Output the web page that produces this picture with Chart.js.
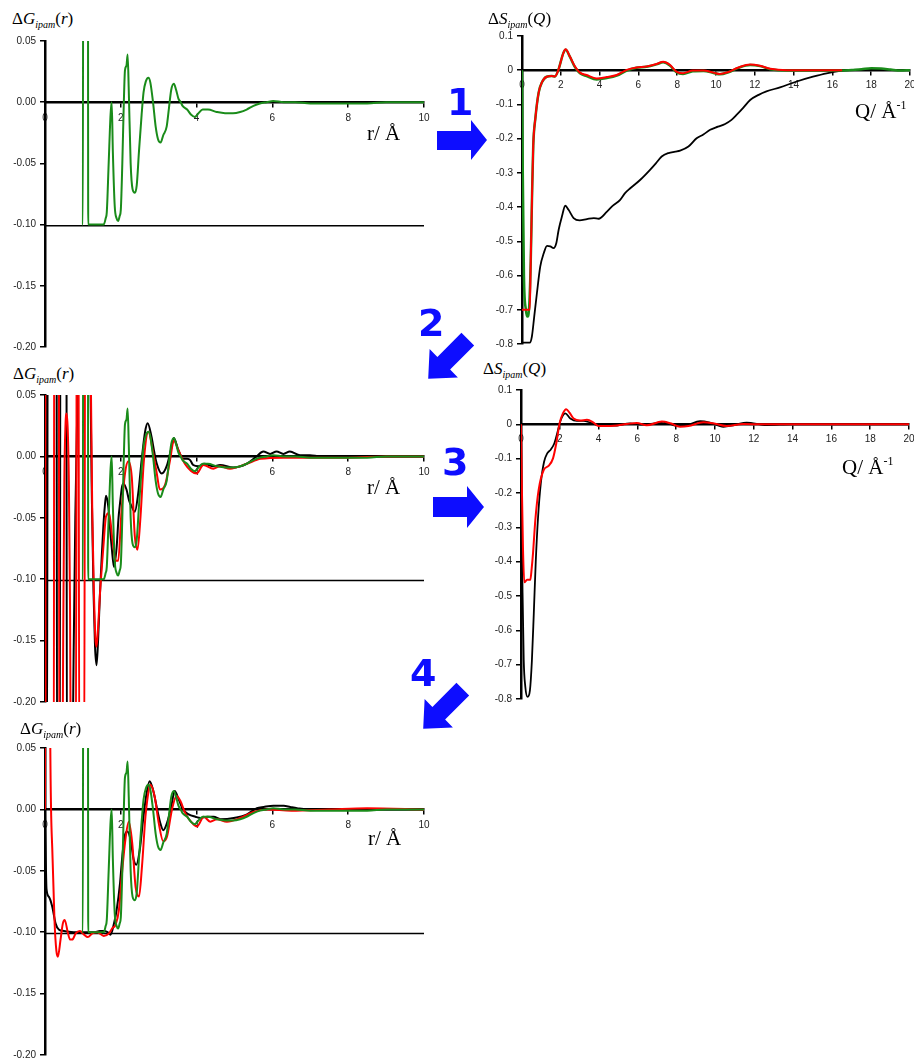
<!DOCTYPE html>
<html>
<head>
<meta charset="utf-8">
<script src="https://cdn.jsdelivr.net/npm/chart.js@4.4.0/dist/chart.umd.min.js"></script>
<style>
html, body { margin: 0; padding: 0; width: 914px; height: 1059px; overflow: hidden; background: #fff; }
canvas { position: absolute; }
.lbl { position: absolute; font-family: "Liberation Serif", "DejaVu Serif", serif; color: #000; white-space: nowrap; line-height: 1; }
.yt { font-size: 17px; }
.yt i { font-style: italic; }
.yt sub { font-size: 10px; font-style: italic; vertical-align: -4px; line-height: 0; }
.xt { font-size: 21px; }
.xt sup { font-size: 12px; vertical-align: 9px; line-height: 0; }
.num { position: absolute; font-family: "DejaVu Sans", sans-serif; font-weight: bold; font-size: 38px; color: #0d0dff; line-height: 1; }
svg { position: absolute; left: 0; top: 0; }
</style>
</head>
<body>

<canvas id="c1" width="440" height="326" style="left:0;top:31px"></canvas>
<canvas id="c2" width="450" height="328" style="left:480px;top:26px"></canvas>
<canvas id="c3" width="440" height="327" style="left:0;top:385px"></canvas>
<canvas id="c4" width="450" height="329" style="left:480px;top:380px"></canvas>
<canvas id="c5" width="440" height="327" style="left:0;top:738px"></canvas>

<!-- axis titles -->
<div class="lbl yt" style="left:12px;top:10px">&Delta;<i>G</i><sub>ipam</sub>(<i>r</i>)</div>
<div class="lbl yt" style="left:488px;top:10px">&Delta;<i>S</i><sub>ipam</sub>(<i>Q</i>)</div>
<div class="lbl yt" style="left:13px;top:365px">&Delta;<i>G</i><sub>ipam</sub>(<i>r</i>)</div>
<div class="lbl yt" style="left:483px;top:360px">&Delta;<i>S</i><sub>ipam</sub>(<i>Q</i>)</div>
<div class="lbl yt" style="left:20px;top:720px">&Delta;<i>G</i><sub>ipam</sub>(<i>r</i>)</div>

<div class="lbl xt" style="left:367px;top:123px">r/ Å</div>
<div class="lbl xt" style="left:855px;top:101px">Q/ Å<sup>-1</sup></div>
<div class="lbl xt" style="left:367px;top:477px">r/ Å</div>
<div class="lbl xt" style="left:842px;top:457px">Q/ Å<sup>-1</sup></div>
<div class="lbl xt" style="left:368px;top:828px">r/ Å</div>

<!-- step numbers and arrows -->
<div class="num" style="left:447px;top:83px">1</div>
<div class="num" style="left:418px;top:304px">2</div>
<div class="num" style="left:442px;top:443px">3</div>
<div class="num" style="left:410px;top:654px">4</div>

<svg width="914" height="1059">
  <polygon fill="#0d0dff" points="437,131 471,131 471,120 487,140 471,160 471,150 437,150"/>
  <polygon fill="#0d0dff" points="433,497 467,497 467,486 484,507 467,528 467,517 433,517"/>
  <g transform="translate(448,359) rotate(135)">
    <polygon fill="#0d0dff" points="-28,-9 6,-9 6,-20 28,0 6,20 6,9 -28,9"/>
  </g>
  <g transform="translate(443,709) rotate(135)">
    <polygon fill="#0d0dff" points="-28,-9 6,-9 6,-20 28,0 6,20 6,9 -28,9"/>
  </g>
</svg>

<script>
// tick values
const rTicks = [0, 2, 4, 6, 8, 10];
const qTicks = [0, 2, 4, 6, 8, 10, 12, 14, 16, 18, 20];
const gTicks = [0.05, 0, -0.05, -0.10, -0.15, -0.20];
const sTicks = [0.1, 0, -0.1, -0.2, -0.3, -0.4, -0.5, -0.6, -0.7, -0.8];

// green dG(r) - same curve in panels 1, 3 and 5 (clipped at -0.10)
const greenR = [
  0.98, 1.00, 1.01, 1.13, 1.14, 1.55, 1.60, 1.63, 1.68, 1.73,
  1.76, 1.79, 1.84, 1.89, 1.93, 1.97, 2.00, 2.04, 2.08, 2.11,
  2.15, 2.18, 2.21, 2.26, 2.31, 2.37, 2.42, 2.48, 2.55, 2.60,
  2.66, 2.73, 2.78, 2.85, 2.92, 2.98, 3.05, 3.12, 3.21, 3.27,
  3.33, 3.40, 3.46, 3.52, 3.58, 3.63, 3.75, 3.85, 3.96, 4.05,
  4.16, 4.30, 4.53, 4.75, 4.96, 5.15, 5.32, 5.50, 5.67, 5.85,
  6.02, 6.30, 6.60, 7.00, 7.50, 8.00, 8.50, 9.00, 10.0
];
const greenG = [
  -0.100, -0.100, 0.300, 0.300, -0.100, -0.100, -0.095, -0.090, -0.050, -0.010,
  0.000, -0.040, -0.085, -0.095, -0.097, -0.093, -0.088, -0.050, 0.000, 0.026,
  0.030, 0.039, 0.010, -0.050, -0.071, -0.074, -0.068, -0.040, -0.010, 0.008,
  0.017, 0.020, 0.016, 0.000, -0.020, -0.030, -0.033, -0.027, -0.020, -0.005,
  0.010, 0.015, 0.010, 0.003, 0.000, -0.003, -0.006, -0.010, -0.012, -0.009,
  -0.006, -0.006, -0.008, -0.009, -0.009, -0.008, -0.006, -0.003, -0.001, 0.000,
  0.001, 0.000, 0.000, -0.001, -0.001, -0.001, -0.001, 0.000, 0.000
];

// panel 3
const p3BlackR = [
  0.00, 0.03, 0.05, 0.08, 0.30, 0.32, 0.39, 0.41, 0.56, 0.58,
  0.70, 0.76, 0.80, 0.84, 0.88, 0.93, 1.16, 1.20, 1.24, 1.28,
  1.32, 1.36, 1.40, 1.45, 1.50, 1.54, 1.58, 1.61, 1.67, 1.72,
  1.76, 1.82, 1.89, 1.94, 1.98, 2.03, 2.07, 2.15, 2.22, 2.29,
  2.37, 2.46, 2.55, 2.64, 2.71, 2.81, 2.88, 2.95, 3.08, 3.21,
  3.32, 3.40, 3.52, 3.65, 3.75, 3.83, 3.91, 4.05, 4.20, 4.44,
  4.62, 4.97, 5.32, 5.58, 5.76, 5.94, 6.11, 6.29, 6.46, 6.73,
  6.99, 7.26, 8.00, 9.00, 10.0
];
const p3BlackG = [
  0.30, -0.30, -0.30, 0.30, 0.30, -0.30, -0.30, 0.30, 0.30, -0.30,
  -0.30, -0.15, -0.05, 0.02, 0.07, 0.30, 0.30, 0.06, -0.04, -0.11,
  -0.155, -0.170, -0.150, -0.112, -0.080, -0.057, -0.040, -0.032, -0.041, -0.060,
  -0.074, -0.090, -0.074, -0.050, -0.038, -0.025, -0.022, -0.027, -0.036, -0.041,
  -0.045, -0.030, -0.003, 0.020, 0.027, 0.016, 0.004, -0.006, -0.014, -0.008,
  0.005, 0.015, 0.005, -0.002, -0.002, -0.003, -0.007, -0.008, -0.006, -0.008,
  -0.007, -0.009, -0.006, 0.000, 0.004, 0.002, 0.004, 0.002, 0.004, 0.001,
  0.001, 0.000, 0.000, 0.000, 0.000
];
const p3RedR = [
  0.00, 0.02, 0.23, 0.25, 0.36, 0.38, 0.45, 0.48, 0.51, 0.54,
  0.57, 0.60, 0.63, 0.66, 0.69, 0.81, 0.85, 0.87, 0.91, 1.03,
  1.07, 1.17, 1.21, 1.25, 1.29, 1.33, 1.36, 1.40, 1.45, 1.54,
  1.61, 1.69, 1.78, 1.87, 1.93, 2.02, 2.11, 2.20, 2.29, 2.37,
  2.44, 2.52, 2.61, 2.73, 2.84, 2.95, 3.03, 3.17, 3.30, 3.40,
  3.52, 3.69, 3.86, 4.00, 4.18, 4.44, 4.62, 4.88, 5.32, 5.69,
  6.29, 7.00, 8.00, 9.00, 10.0
];
const p3RedG = [
  0.30, -0.30, -0.30, 0.30, 0.30, -0.30, -0.30, -0.15, -0.02, 0.025,
  0.035, 0.022, -0.02, -0.12, -0.30, -0.30, 0.30, 0.30, -0.30, -0.30,
  0.30, 0.30, 0.06, -0.05, -0.11, -0.148, -0.155, -0.140, -0.112, -0.074,
  -0.049, -0.046, -0.068, -0.085, -0.085, -0.044, -0.014, -0.004, -0.017, -0.065,
  -0.076, -0.049, -0.003, 0.020, 0.005, -0.014, -0.027, -0.023, -0.003, 0.013,
  0.005, -0.006, -0.012, -0.014, -0.007, -0.010, -0.008, -0.010, -0.006, -0.002,
  -0.001, -0.001, -0.001, 0.000, 0.000
];

// panel 5
const p5BlackR = [
  0.00, 0.02, 0.04, 0.10, 0.19, 0.28, 0.37, 0.50, 0.76, 1.00,
  1.29, 1.45, 1.55, 1.65, 1.73, 1.82, 1.89, 1.98, 2.04, 2.10,
  2.17, 2.26, 2.34, 2.41, 2.50, 2.59, 2.68, 2.76, 2.85, 2.96,
  3.05, 3.12, 3.22, 3.33, 3.42, 3.53, 3.64, 3.79, 3.97, 4.10,
  4.28, 4.45, 4.63, 4.98, 5.33, 5.59, 5.77, 6.03, 6.30, 6.47,
  6.65, 6.91, 7.50, 8.00, 9.00, 10.0
];
const p5BlackG = [
  0.000, -0.040, -0.065, -0.071, -0.079, -0.093, -0.098, -0.099, -0.100, -0.100,
  -0.100, -0.099, -0.099, -0.100, -0.102, -0.093, -0.082, -0.060, -0.038, -0.022,
  -0.018, -0.025, -0.041, -0.045, -0.033, -0.008, 0.013, 0.023, 0.016, 0.000,
  -0.012, -0.017, -0.011, 0.002, 0.015, 0.008, 0.000, -0.004, -0.006, -0.007,
  -0.006, -0.006, -0.008, -0.007, -0.004, 0.001, 0.002, 0.003, 0.003, 0.002,
  0.001, 0.000, 0.000, 0.000, 0.000, 0.000
];
const p5RedR = [
  0.00, 0.01, 0.10, 0.14, 0.20, 0.25, 0.30, 0.34, 0.41, 0.47,
  0.52, 0.60, 0.66, 0.72, 0.81, 0.92, 1.03, 1.13, 1.25, 1.38,
  1.55, 1.69, 1.77, 1.86, 1.95, 2.04, 2.12, 2.21, 2.30, 2.39,
  2.48, 2.56, 2.65, 2.74, 2.78, 2.89, 3.00, 3.12, 3.22, 3.35,
  3.47, 3.57, 3.70, 3.88, 4.01, 4.19, 4.36, 4.54, 4.80, 5.15,
  5.50, 5.86, 6.50, 7.50, 8.50, 10.0
];
const p5RedG = [
  0.000, 0.300, 0.300, 0.050, -0.040, -0.090, -0.115, -0.120, -0.106, -0.093,
  -0.090, -0.100, -0.106, -0.106, -0.101, -0.099, -0.102, -0.104, -0.101, -0.100,
  -0.103, -0.101, -0.097, -0.094, -0.082, -0.049, -0.025, -0.010, -0.027, -0.063,
  -0.071, -0.046, -0.006, 0.016, 0.020, 0.011, -0.011, -0.026, -0.022, 0.000,
  0.011, 0.007, -0.003, -0.011, -0.014, -0.006, -0.010, -0.008, -0.010, -0.007,
  -0.002, 0.000, -0.001, 0.000, 0.001, 0.000
];

// panel 2: dS(Q)
const p2RedQ = [
  0.00, 0.40, 0.45, 0.52, 0.58, 0.69, 0.86, 1.03, 1.27, 1.53,
  1.70, 1.87, 2.13, 2.25, 2.47, 2.73, 2.99, 3.33, 3.85, 4.37,
  4.88, 5.40, 5.90, 6.42, 6.93, 7.28, 7.62, 7.96, 8.30, 8.80,
  9.36, 9.87, 10.20, 10.64, 11.16, 11.76, 12.27, 12.80, 13.65, 15.00,
  16.50
];
const p2RedS = [
  -0.700, -0.700, -0.560, -0.360, -0.220, -0.140, -0.065, -0.035, -0.019, -0.017,
  -0.018, 0.000, 0.050, 0.061, 0.040, 0.011, -0.007, -0.014, -0.024, -0.020,
  -0.014, 0.001, 0.008, 0.011, 0.018, 0.025, 0.016, -0.004, -0.009, -0.001,
  -0.001, -0.007, -0.011, -0.005, 0.008, 0.017, 0.013, 0.004, 0.000, 0.000,
  0.000
];
const p2GreenQ = [
  0.00, 0.04, 0.10, 0.20, 0.28, 0.36, 0.45, 0.52, 0.58, 0.69,
  0.86, 1.03, 1.27, 1.53, 1.70, 1.87, 2.13, 2.25, 2.47, 2.73,
  2.99, 3.33, 3.85, 4.37, 4.88, 5.40, 5.90, 6.42, 6.93, 7.28,
  7.62, 7.96, 8.30, 8.80, 9.36, 9.87, 10.20, 10.64, 11.16, 11.76,
  12.27, 12.80, 13.65, 15.00, 16.50, 17.00, 17.50, 18.00, 18.50, 19.00,
  19.50, 20.00
];
const p2GreenS = [
  0.000, -0.300, -0.600, -0.700, -0.720, -0.700, -0.560, -0.360, -0.220, -0.140,
  -0.065, -0.035, -0.019, -0.017, -0.018, 0.000, 0.050, 0.060, 0.039, 0.009,
  -0.009, -0.017, -0.027, -0.023, -0.016, -0.001, 0.007, 0.010, 0.017, 0.023,
  0.014, -0.006, -0.011, -0.003, -0.002, -0.008, -0.012, -0.006, 0.007, 0.015,
  0.012, 0.003, -0.001, -0.001, -0.001, 0.001, 0.003, 0.006, 0.005, 0.002,
  -0.001, 0.000
];
const p2BlackQ = [
  0.00, 0.40, 0.51, 0.63, 0.77, 0.94, 1.12, 1.29, 1.46, 1.63,
  1.77, 1.89, 2.06, 2.23, 2.40, 2.66, 2.97, 3.35, 3.70, 3.95,
  4.38, 4.70, 5.06, 5.30, 5.58, 6.10, 6.60, 6.90, 7.20, 7.55,
  7.90, 8.15, 8.58, 9.00, 9.35, 9.70, 10.10, 10.47, 10.80, 11.07,
  11.40, 11.76, 12.20, 12.60, 13.30, 14.16, 15.00, 15.70, 16.40, 16.90,
  18.00, 20.00
];
const p2BlackS = [
  -0.796, -0.796, -0.778, -0.720, -0.651, -0.574, -0.535, -0.513, -0.515, -0.520,
  -0.505, -0.466, -0.427, -0.396, -0.408, -0.432, -0.439, -0.435, -0.432, -0.434,
  -0.413, -0.395, -0.379, -0.360, -0.345, -0.320, -0.291, -0.272, -0.252, -0.242,
  -0.238, -0.235, -0.223, -0.199, -0.188, -0.174, -0.165, -0.157, -0.145, -0.130,
  -0.110, -0.087, -0.072, -0.062, -0.050, -0.033, -0.019, -0.009, -0.002, 0.000,
  0.000, 0.000
];

// panel 4
const p4BlackQ = [
  0.00, 0.03, 0.08, 0.14, 0.22, 0.34, 0.46, 0.56, 0.66, 0.76,
  0.88, 1.02, 1.19, 1.36, 1.54, 1.72, 1.89, 2.02, 2.28, 2.54,
  2.88, 3.22, 3.57, 4.00, 4.77, 5.63, 6.14, 6.80, 7.34, 8.03,
  8.54, 9.23, 9.74, 10.43, 11.00, 11.63, 12.66, 14.00, 16.00, 18.00,
  20.00
];
const p4BlackS = [
  0.000, -0.250, -0.490, -0.686, -0.763, -0.794, -0.775, -0.690, -0.550, -0.400,
  -0.270, -0.172, -0.109, -0.084, -0.073, -0.055, -0.021, 0.008, 0.032, 0.017,
  0.010, 0.010, 0.005, -0.003, -0.004, 0.003, -0.001, 0.002, 0.007, -0.005,
  -0.003, 0.009, 0.005, -0.007, -0.002, 0.005, -0.002, 0.000, 0.000, 0.000,
  0.000
];
const p4RedQ = [
  0.00, 0.05, 0.10, 0.17, 0.31, 0.48, 0.55, 0.62, 0.74, 0.91,
  1.17, 1.42, 1.65, 1.82, 1.99, 2.16, 2.33, 2.50, 2.71, 3.05,
  3.40, 3.74, 4.00, 4.77, 5.45, 5.97, 6.48, 7.26, 7.70, 8.20,
  8.63, 9.40, 9.90, 10.60, 11.46, 12.50, 14.00, 16.00, 18.00, 20.00
];
const p4RedS = [
  0.000, -0.200, -0.356, -0.460, -0.453, -0.453, -0.420, -0.375, -0.278, -0.191,
  -0.133, -0.121, -0.099, -0.055, 0.003, 0.032, 0.044, 0.034, 0.017, 0.011,
  0.013, 0.005, -0.005, -0.004, 0.001, 0.004, -0.003, 0.008, 0.003, -0.007,
  -0.005, 0.006, 0.003, -0.005, 0.001, 0.000, 0.000, 0.000, 0.000, 0.000
];

// horizontal reference level drawn in the dG panels
const cutR = [0, 10];
const cutG = [-0.101, -0.101];

const GREEN = '#1a8c1a';
const RED = '#ff0000';
const BLACK = '#000000';
const TICK_FONT = { family: "'Liberation Sans', Arial, sans-serif", size: 10 };

function pts(xs, ys) {
  return xs.map((x, i) => ({ x: x, y: ys[i] }));
}

function line(xs, ys, color, width, smooth) {
  return {
    data: pts(xs, ys),
    borderColor: color,
    borderWidth: width,
    pointRadius: 0,
    fill: false,
    tension: 0,
    cubicInterpolationMode: smooth ? 'monotone' : 'default'
  };
}

function fmtG(v) { return Math.abs(v) < 1e-9 ? '0.00' : v.toFixed(2); }
function fmtS(v) { return Math.abs(v) < 1e-9 ? '0' : v.toFixed(1); }

function makeChart(id, cfg) {
  const ctx = document.getElementById(id).getContext('2d');
  return new Chart(ctx, {
    type: 'line',
    data: { datasets: cfg.datasets },
    options: {
      responsive: false,
      animation: false,
      devicePixelRatio: 1,
      events: [],
      layout: { padding: cfg.pad },
      plugins: { legend: { display: false }, tooltip: { enabled: false } },
      scales: {
        x: {
          type: 'linear',
          min: 0,
          max: cfg.xMax,
          position: { y: 0 },
          afterBuildTicks: s => { s.ticks = cfg.xTicks.map(v => ({ value: v })); },
          ticks: {
            color: '#222', font: TICK_FONT, padding: cfg.xPad,
            maxRotation: 0, autoSkip: false,
            callback: v => String(v)
          },
          grid: { display: true, drawOnChartArea: false, drawTicks: true, tickLength: 4, color: '#000', lineWidth: 1.5 },
          border: { display: true, color: '#000', width: 2.5 }
        },
        y: {
          type: 'linear',
          min: cfg.yMin,
          max: cfg.yMax,
          position: 'left',
          afterBuildTicks: s => { s.ticks = cfg.yTicks.map(v => ({ value: v })); },
          afterFit: s => { s.width = cfg.yWidth; },
          ticks: { color: '#222', font: TICK_FONT, padding: 4, callback: cfg.yFmt },
          grid: { display: true, drawOnChartArea: false, drawTicks: true, tickLength: 5, color: '#000', lineWidth: 1.5 },
          border: { display: true, color: '#000', width: 2.5 }
        }
      }
    }
  });
}

const gPanel = { xMax: 10, xTicks: rTicks, yMin: -0.20, yMax: 0.05, yTicks: gTicks, yFmt: fmtG, xPad: 6 };
const sPanel = { xMax: 20, xTicks: qTicks, yMin: -0.8, yMax: 0.1, yTicks: sTicks, yFmt: fmtS, xPad: 5 };

// panel 1: green only
makeChart('c1', Object.assign({}, gPanel, {
  yWidth: 35,
  pad: { left: 10, top: 10, right: 16, bottom: 10 },
  datasets: [
    line(greenR, greenG, GREEN, 2, true),
    line(cutR, cutG, BLACK, 1.5, false)
  ]
}));

// panel 2
makeChart('c2', Object.assign({}, sPanel, {
  yWidth: 32,
  pad: { left: 10, top: 10, right: 20, bottom: 10 },
  datasets: [
    line(p2RedQ, p2RedS, RED, 2, true),
    line(p2GreenQ, p2GreenS, GREEN, 2.5, true),
    line(p2BlackQ, p2BlackS, BLACK, 1.8, true)
  ]
}));

// panel 3
makeChart('c3', Object.assign({}, gPanel, {
  yWidth: 35,
  pad: { left: 10, top: 10, right: 16, bottom: 10 },
  datasets: [
    line(greenR, greenG, GREEN, 2, true),
    line(p3RedR, p3RedG, RED, 2, true),
    line(p3BlackR, p3BlackG, BLACK, 2, true),
    line(cutR, cutG, BLACK, 1.5, false)
  ]
}));

// panel 4
makeChart('c4', Object.assign({}, sPanel, {
  yWidth: 31,
  pad: { left: 10, top: 10, right: 21, bottom: 10 },
  datasets: [
    line(p4RedQ, p4RedS, RED, 2, true),
    line(p4BlackQ, p4BlackS, BLACK, 1.8, true)
  ]
}));

// panel 5
makeChart('c5', Object.assign({}, gPanel, {
  yWidth: 35,
  pad: { left: 10, top: 10, right: 16, bottom: 10 },
  datasets: [
    line(greenR, greenG, GREEN, 2, true),
    line(p5RedR, p5RedG, RED, 2, true),
    line(p5BlackR, p5BlackG, BLACK, 2, true),
    line(cutR, cutG, BLACK, 1.5, false)
  ]
}));
</script>
</body>
</html>
